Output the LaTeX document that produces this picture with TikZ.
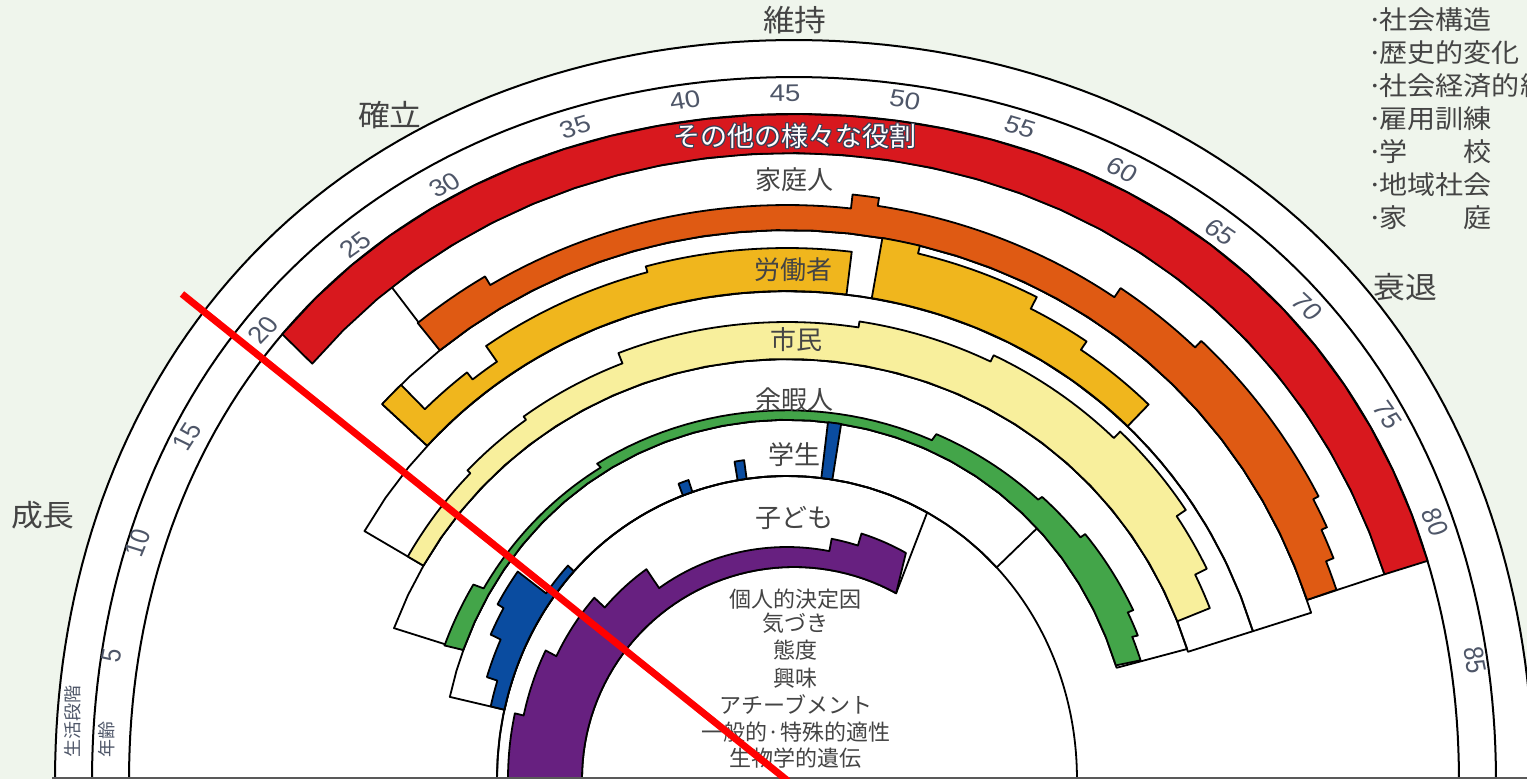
\documentclass[tikz,border=0pt]{standalone}
\usepackage{fontspec}
\setmainfont{Liberation Sans}
\newfontfamily\jp{Noto Sans CJK JP}
\definecolor{bg}{HTML}{EFF5EC}
\definecolor{cRed}{HTML}{D8181E}
\definecolor{cOra}{HTML}{DF5A13}
\definecolor{cGold}{HTML}{F0B61D}
\definecolor{cCit}{HTML}{F8EF9C}
\definecolor{cGrn}{HTML}{43A549}
\definecolor{cBlu}{HTML}{0A4CA0}
\definecolor{cPur}{HTML}{672080}
\definecolor{tx}{HTML}{444444}
\definecolor{dg}{HTML}{4E5668}
\definecolor{ol}{HTML}{3A3F55}
\tikzset{
  declare function={ww(\q)=min(1,max(0,(660-\q)/60)); gf(\t,\q)=1+(0.02-0.015*ww(\q))*sin(4*\t)*sin(4*\t); cxr(\q)=-7*ww(\q); vf(\q)=1+0.045*min(1,max(0,(380-\q)/40));},
  band/.style={draw=black,line width=1.8pt,line join=round},
  slot/.style={draw=black,line width=1.8pt,line join=round},
  ring/.style={draw=black,line width=2pt},
  jl/.style={font=\jp\fontsize{30}{32}\selectfont,text=tx,xscale=1.06,inner sep=0pt},
  rl/.style={font=\jp\fontsize{26}{28}\selectfont,text=tx,inner sep=0pt},
  il/.style={font=\jp\fontsize{22}{24}\selectfont,text=tx,inner sep=0pt},
  ll/.style={font=\jp\fontsize{26}{28}\selectfont,text=tx,xscale=1.08,inner sep=0pt,anchor=west},
  agel/.style={font=\fontsize{24}{26}\selectfont,text=dg,xscale=1.15,inner sep=0pt},
  vl/.style={font=\jp\fontsize{18}{20}\selectfont,text=dg,rotate=90,inner sep=0pt},
}
\newcommand\arcseg[3]{plot[domain=#1:#2,samples=30] ({cxr(#3)+(#3)*gf(\x,#3)*cos(180-2*\x)},{(#3)*vf(#3)*gf(\x,#3)*sin(180-2*\x)})}
\newcommand\larc[3]{-- plot[domain=#1:#2,samples=30] ({cxr(#3)+(#3)*gf(\x,#3)*cos(180-2*\x)},{(#3)*vf(#3)*gf(\x,#3)*sin(180-2*\x)})}
\newcommand\bigarc[3]{plot[domain=#1:#2,samples=140] ({cxr(#3)+(#3)*gf(\x,#3)*cos(180-2*\x)},{(#3)*vf(#3)*gf(\x,#3)*sin(180-2*\x)})}
\newcommand\pinner{plot[domain=0:59.4,samples=50] ({212*cos(180-2*\x)},{212*sin(180-2*\x)})}
\newcommand\outl[1]{\leavevmode
  \rlap{\hspace{-1.2pt}\textcolor{ol}{#1}}\rlap{\hspace{1.2pt}\textcolor{ol}{#1}}%
  \rlap{\raisebox{1.2pt}{\textcolor{ol}{#1}}}\rlap{\raisebox{-1.2pt}{\textcolor{ol}{#1}}}%
  \rlap{\hspace{-0.9pt}\raisebox{0.9pt}{\textcolor{ol}{#1}}}\rlap{\hspace{0.9pt}\raisebox{0.9pt}{\textcolor{ol}{#1}}}%
  \rlap{\hspace{-0.9pt}\raisebox{-0.9pt}{\textcolor{ol}{#1}}}\rlap{\hspace{0.9pt}\raisebox{-0.9pt}{\textcolor{ol}{#1}}}%
  \textcolor{white}{#1}}
\newcommand\dt{·\kern-0.12em}
\begin{document}
\begin{tikzpicture}[x=1pt,y=1pt]
\useasboundingbox (-794,0) rectangle (733,779);
\clip (-794,0) rectangle (733,779);
\fill[bg] (-794,0) rectangle (733,779);
% white fan
\fill[white] \bigarc{0}{90}{739} -- cycle;
% rings
\draw[ring] \bigarc{0}{90}{739};
\draw[ring] \bigarc{0}{90}{702};
\draw[ring] \bigarc{0}{90}{665};
% slots (outlines)
\draw[slot] \arcseg{25.5}{80.5}{549} \larc{80.5}{25.5}{626} -- cycle;
\draw[slot] \arcseg{21.4}{81.2}{488} \larc{81.2}{21.4}{549} -- cycle;
\draw[slot] \arcseg{15.2}{81.2}{420} \larc{81.2}{15.2}{488} -- cycle;
\draw[slot] \arcseg{10.5}{81}{346} \larc{81}{10.5}{420} -- cycle;
\draw[slot] \arcseg{6.6}{68}{290} \larc{68}{6.6}{346} -- cycle;
\draw[slot] \bigarc{0}{90}{290};
\draw[slot] \pinner \larc{59.4}{0}{290} -- cycle;
% red band
\draw[band,fill=cRed] \arcseg{20.5}{80.5}{626} \larc{80.5}{20.5}{665} -- cycle;
% orange
\draw[band,fill=cOra] \arcseg{25.5}{80.5}{549} \larc{80.5}{79}{580} \larc{79}{77.5}{588}
  \larc{77.5}{76}{594} \larc{76}{66.7}{600} \larc{66.7}{62.1}{591} \larc{62.1}{49.5}{580}
  \larc{49.5}{48.2}{588} \larc{48.2}{29.5}{574} \larc{29.5}{25.5}{584} -- cycle;
% gold
\draw[band,fill=cGold] \arcseg{21.4}{48.5}{488} \larc{48.5}{37.3}{531} \larc{37.3}{27.6}{525}
  \larc{27.6}{25.9}{506} \larc{25.9}{22.8}{515} \larc{22.8}{21.4}{549} -- cycle;
\draw[band,fill=cGold] \arcseg{50}{67}{488} \larc{67}{62.2}{518} \larc{62.2}{58.7}{528}
  \larc{58.7}{52}{541} \larc{52}{50}{549} -- cycle;
% citizen
\draw[band,fill=cCit] \arcseg{15.2}{79}{420} \larc{79}{76.7}{455} \larc{76.7}{73}{468}
  \larc{73}{66.9}{479} \larc{66.9}{58}{470} \larc{58}{49.5}{463} \larc{49.5}{34.2}{457}
  \larc{34.2}{27}{446} \larc{27}{22}{442} \larc{22}{15.2}{438} -- cycle;
% green
\draw[band,fill=cGrn] \arcseg{10.5}{80.8}{346} \larc{80.8}{78.9}{372} \larc{78.9}{77}{378}
  \larc{77}{70.3}{384} \larc{70.3}{66.1}{378} \larc{66.1}{56.8}{372} \larc{56.8}{29.2}{361}
  \larc{29.2}{15.7}{354} \larc{15.7}{10.5}{366} -- cycle;
% blue
\draw[band,fill=cBlu] \arcseg{6.6}{21.5}{290} \larc{21.5}{18.2}{298} \larc{18.2}{15}{333}
  \larc{15}{12.5}{326} \larc{12.5}{9}{315} \larc{9}{6.6}{304} -- cycle;
\draw[band,fill=cBlu] \arcseg{34.5}{35.5}{290} \larc{35.5}{34.5}{302} -- cycle;
\draw[band,fill=cBlu] \arcseg{40.1}{41}{290} \larc{41}{40.1}{308} -- cycle;
\draw[band,fill=cBlu] \arcseg{48.4}{49.5}{290} \larc{49.5}{48.4}{346} -- cycle;
% purple
\draw[band,fill=cPur] \pinner \larc{59.4}{53.8}{246} \larc{53.8}{50.5}{234}
  \larc{50.5}{27.5}{222} \larc{27.5}{21}{244} \larc{21}{13.5}{258} \larc{13.5}{6.5}{270}
  \larc{6.5}{0}{279} -- cycle;
% stage labels
\node[jl] (seicho) at (-751,264) {成長};
\node[jl] (kakuritsu) at (-404,664) {確立};
\node[jl] (iji) at (1,759) {維持};
\node[jl] (suitai) at (611,492) {衰退};
% list
\node[ll] (l1) at (573,759) {\dt 社会構造};
\node[ll] (l2) at (573,726) {\dt 歴史的変化};
\node[ll] (l3) at (573,693) {\dt 社会経済的組織};
\node[ll] (l4) at (573,660) {\dt 雇用訓練};
\node[ll] (l5) at (573,627) {\dt 学\hspace{2em}校};
\node[ll] (l6) at (573,594) {\dt 地域社会};
\node[ll] (l7) at (573,561) {\dt 家\hspace{2em}庭};
% role labels
\node[rl,font=\jp\fontsize{27}{29}\selectfont] (other) at (1,643) {\outl{その他の様々な役割}};
\node[rl] (kateijin) at (1,599) {家庭人};
\node[rl] (rodosha) at (0,509) {労働者};
\node[rl] (shimin) at (3,439) {市民};
\node[rl] (yokajin) at (1,379) {余暇人};
\node[rl] (gakusei) at (1,324) {学生};
\node[rl] (kodomo) at (1,261) {子ども};
% inner text
\node[il] (i1) at (2,180) {個人的決定因};
\node[il] (i2) at (2,156) {気づき};
\node[il] (i3) at (2,129) {態度};
\node[il] (i4) at (2,101) {興味};
\node[il] (i5) at (2,74) {アチーブメント};
\node[il] (i6) at (2,47) {一般的·特殊的適性};
\node[il] (i7) at (2,21) {生物学的遺伝};
% vertical labels
\node[vl] (stage) at (-721,57) {生活段階};
\node[vl] (nenrei) at (-687,39) {年齢};
% ages
\node[agel,rotate=79.7] (a5) at (-682,124) {5};
\node[agel,rotate=70.2] (a10) at (-656,236) {10};
\node[agel,rotate=60.6] (a15) at (-607,342) {15};
\node[agel,rotate=49.8] (a20) at (-531,449) {20};
\node[agel,rotate=39.4] (a25) at (-439,534) {25};
\node[agel,rotate=30.4] (a30) at (-349,594) {30};
\node[agel,rotate=18.6] (a35) at (-219,652) {35};
\node[agel,rotate=9.1] (a40) at (-109,679) {40};
\node[agel,rotate=0.75] (a45) at (-9,686) {45};
\node[agel,rotate=-9.3] (a50) at (111,679) {50};
\node[agel,rotate=-19.1] (a55) at (226,652) {55};
\node[agel,rotate=-28.3] (a60) at (328,609) {60};
\node[agel,rotate=-37.9] (a65) at (426,547) {65};
\node[agel,rotate=-47.4] (a70) at (513,472) {70};
\node[agel,rotate=-58.5] (a75) at (593,364) {75};
\node[agel,rotate=-68.2] (a80) at (641,257) {80};
\node[agel,rotate=-80.1] (a85) at (681,119) {85};
% base line
\coordinate (bl) at (-742,1.2);
\coordinate (br) at (733,1.2);
\draw[line width=2.5pt,draw=black!65] (bl) -- (br);
% red annotation line
\coordinate (rs) at (-612,485);
\coordinate (re) at (-6,-2);
\draw[line width=7pt,draw=red] (rs) -- (re);
\end{tikzpicture}
\end{document}
